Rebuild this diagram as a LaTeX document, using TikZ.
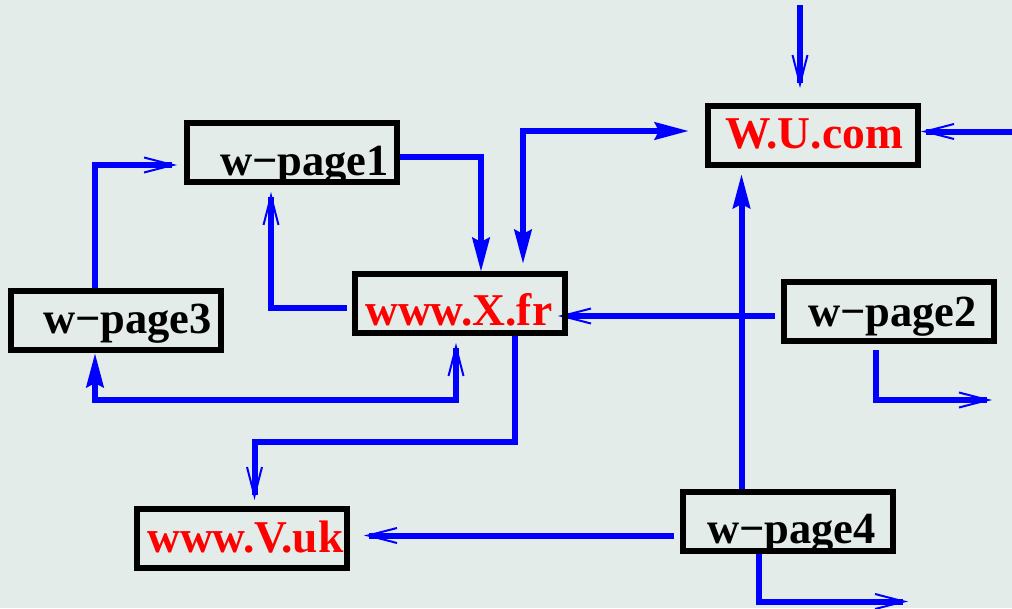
\documentclass[tikz,border=0pt]{standalone}
\usepackage{fontspec}
\setmainfont{Liberation Serif}
\usetikzlibrary{arrows.meta}
\definecolor{bgcol}{RGB}{227,236,233}
\definecolor{lnk}{RGB}{0,0,255}
\definecolor{site}{RGB}{255,0,0}
\pgfdeclarelayer{back}
\pgfdeclarelayer{mid}
\pgfsetlayers{back,mid,main}
\begin{document}
\begin{tikzpicture}[x=1pt,y=-1pt,
  pagebox/.style={draw=black,line width=6pt,minimum width=210pt,minimum height=59pt,inner sep=0pt,outer sep=0pt},
  lbl/.style={anchor=base west,inner sep=0pt,font=\fontsize{44.5}{44}\selectfont\bfseries},
  sitelbl/.style={lbl,text=site,font=\fontsize{45.5}{44}\selectfont\bfseries},
  conn/.style={draw=lnk,line width=6pt},
  openhd/.tip={Straight Barb[length=29pt,width=15pt,line width'=2pt]},
  fillhd/.tip={Stealth[length=34pt,width=17pt,inset=4pt]}]
\begin{pgfonlayer}{back}
\fill[bgcol] (0,0) rectangle (1012,608);
\end{pgfonlayer}
\useasboundingbox (0,0) rectangle (1012,608);
% boxes
\node[pagebox] (p1) at (292,152.5) {};
\node[pagebox] (p3) at (115.5,320.5) {};
\node[pagebox] (xfr) at (460,303.5) {};
\node[pagebox] (wu) at (813,135.5) {};
\node[pagebox] (p2) at (888.5,311.5) {};
\node[pagebox] (vuk) at (241.5,538.5) {};
\node[pagebox] (p4) at (787.5,521.5) {};
% labels
\node[lbl] (p1t) at (220,175) {w−page1};
\node[lbl] (p3t) at (43,333) {w−page3};
\node[sitelbl] (xfrt) at (365,325) {www.X.fr};
\node[sitelbl] (wut) at (725,148) {W.U.com};
\node[lbl] (p2t) at (808,326) {w−page2};
\node[sitelbl] (vukt) at (147,552) {www.V.uk};
\node[lbl] (p4t) at (707,543) {w−page4};
% free ends
\coordinate (topin) at (800,5);
\coordinate (rightin) at (1014,131.5);
\coordinate (p2out) at (992,400);
\coordinate (p4out) at (908,601.5);
\begin{pgfonlayer}{mid}
\draw[conn,-openhd] ([xshift=-20.5pt,yshift=3pt]p3.north) |- ([xshift=-10pt,yshift=-12.5pt]p1.west);
\draw[conn,-openhd] ([xshift=-8pt,yshift=-4.5pt]xfr.west) -| ([xshift=-21pt,yshift=-10pt]p1.south);
\draw[conn,-fillhd] ([yshift=-4.5pt]p1.east) -| ([xshift=21pt,yshift=2pt]xfr.north);
\draw[conn,fillhd-fillhd] ([xshift=63pt,yshift=10pt]xfr.north) |- ([xshift=-19pt,yshift=4.5pt]wu.west);
\draw[conn,-openhd] (topin) -- ([xshift=-13pt,yshift=18pt]wu.north);
\draw[conn,-openhd] (rightin) -- ([xshift=3pt,yshift=4pt]wu.east);
\draw[conn,-fillhd] ([xshift=-46pt]p4.north) -- ([xshift=-71.5pt,yshift=-9pt]wu.south);
\draw[conn,-openhd] ([xshift=-8.5pt,yshift=-4.5pt]p2.west) -- ([xshift=-7pt,yshift=-12.5pt]xfr.east);
\draw[conn,-openhd] ([xshift=-12.5pt,yshift=-9pt]p2.south) |- (p2out);
\draw[conn,fillhd-openhd] ([xshift=-20.5pt,yshift=-3pt]p3.south) -- ++(0,47) -| ([xshift=-4pt,yshift=-10pt]xfr.south);
\draw[conn,-openhd] ([xshift=55pt,yshift=-3pt]xfr.south) -- ++(0,106) -| ([xshift=13pt,yshift=9pt]vuk.north);
\draw[conn,-openhd] ([xshift=-8.5pt,yshift=-14pt]p4.west) -- ([xshift=17.5pt,yshift=3pt]vuk.east);
\draw[conn,-openhd] ([xshift=-28.5pt,yshift=-3pt]p4.south) |- (p4out);
\end{pgfonlayer}
\end{tikzpicture}
\end{document}
